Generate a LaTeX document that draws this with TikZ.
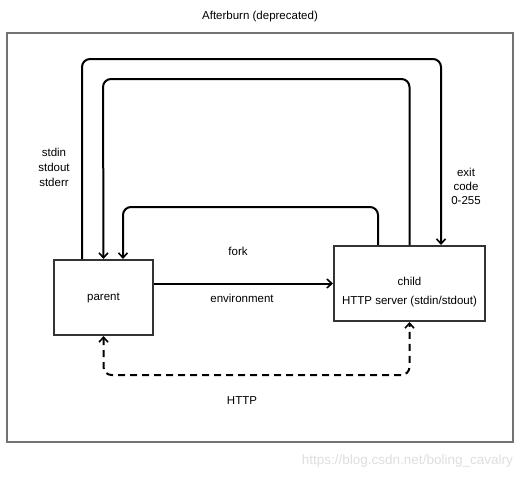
\documentclass[tikz,border=0pt]{standalone}
\usepackage{fontspec}
\setmainfont{Liberation Sans}
\usetikzlibrary{arrows.meta}

\tikzset{
    box/.style={draw=black!80, line width=2pt, minimum width=99pt, minimum height=75pt, inner sep=0pt},
    flow/.style={draw, line width=2pt, rounded corners=8pt, -{Straight Barb[length=5pt,width=9pt,line width=1.6pt]}},
    lbl/.style={font=\fontsize{11.5}{15}\selectfont, align=center, inner sep=0pt}
}

\begin{document}
\begin{tikzpicture}[x=1pt, y=-1pt]
    \useasboundingbox (0,0) rectangle (527,479);

    % ==========================================
    % Frame and title
    % ==========================================
    \node[lbl] (title) at (260,17) {Afterburn (deprecated)};
    \draw[black!55, line width=1.5pt] (7,33) rectangle (513,442);

    % ==========================================
    % Processes
    % ==========================================
    \node[box] (parent) at (103.5,297.5) {};
    \node[lbl] (parenttxt) at (103.5,298) {parent};
    \node[box, minimum width=151pt] (child) at (409.5,283.5) {};
    \node[lbl] (childtxt) at (409.5,292.5) {child\\[4pt]HTTP server (stdin/stdout)};

    % Corners of the three loops
    \coordinate (outl) at (82,59);
    \coordinate (outr) at (441,59);
    \coordinate (midl) at (103,79);
    \coordinate (midr) at (410,79);
    \coordinate (innl) at (123,207);
    \coordinate (innr) at (378,207);

    % stdin/stdout/stderr: parent -> child
    \draw[flow] (parent.north -| outl) |- (outr) -- (child.north -| outr);
    % exit code: child -> parent
    \draw[flow] (child.north) |- (midl) -- (parent.north);
    \draw[flow] (child.north -| innr) |- (innl) -- (parent.north -| innl);

    % fork with environment
    \draw[flow] (parent.east |- child.west) -- (child.west);

    % HTTP (dashed, both ways)
    \coordinate (httpc) at (250,375);
    \draw[flow, {Straight Barb[length=5pt,width=9pt,line width=1.6pt]}-{Straight Barb[length=5pt,width=9pt,line width=1.6pt]}, dash pattern=on 7pt off 5pt]
        (parent.south) |- (httpc) -| (child.south);

    % ==========================================
    % Labels
    % ==========================================
    \node[lbl] (fork) at (238,251) {fork};
    \node[lbl] (env) at (242,298) {environment};
    \node[lbl] (http) at (242,401) {HTTP};
    \node[lbl] (stdio) at (54,167) {stdin\\stdout\\stderr};
    \node[lbl, font=\fontsize{11.5}{14}\selectfont] (exitc) at (466,186) {exit\\code\\0-255};

    % Watermark
    \node[lbl, text=black!13, font=\fontsize{13.5}{15}\selectfont, anchor=east] (mark) at (513,461) {https://blog.csdn.net/boling\_cavalry};
\end{tikzpicture}
\end{document}
